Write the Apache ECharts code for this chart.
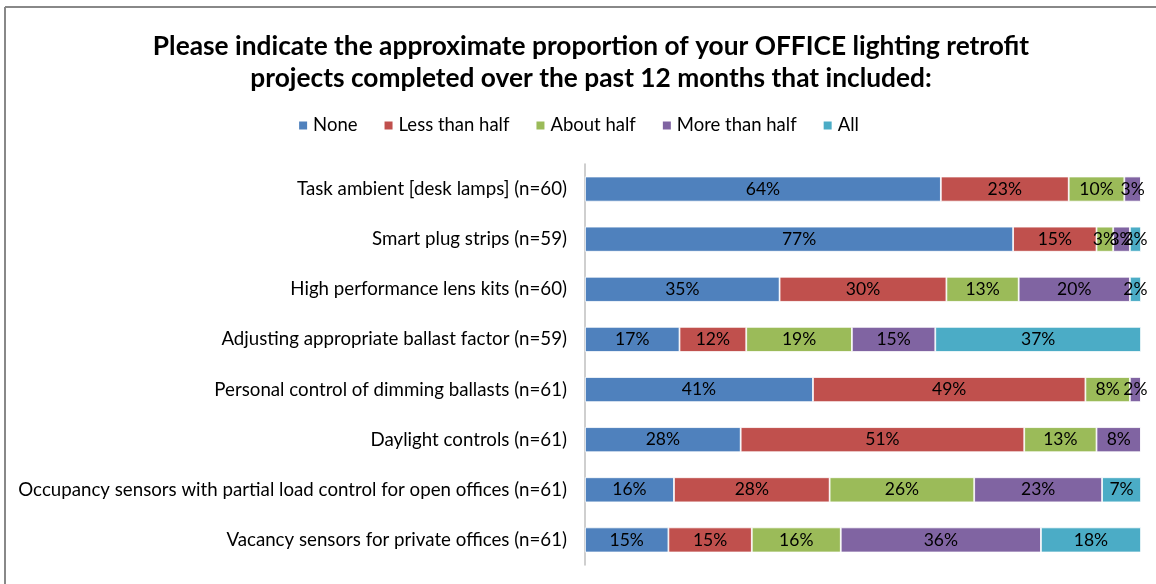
<!DOCTYPE html>
<html><head><meta charset="utf-8">
<script src="https://cdn.jsdelivr.net/npm/echarts@6/dist/echarts.min.js"></script>
<style>html,body{margin:0;padding:0;background:#fff}#c{width:1156px;height:584px}</style>
</head><body><div id="c"></div>
<script>
const categories = [
  "Task ambient [desk lamps] (n=60)",
  "Smart plug strips (n=59)",
  "High performance lens kits (n=60)",
  "Adjusting appropriate ballast factor (n=59)",
  "Personal control of dimming ballasts (n=61)",
  "Daylight controls (n=61)",
  "Occupancy sensors with partial load control for open offices (n=61)",
  "Vacancy sensors for private offices (n=61)"
];
const seriesNames = ["None", "Less than half", "About half", "More than half", "All"];
const none        = [64, 77, 35, 17, 41, 28, 16, 15];
const lessHalf    = [23, 15, 30, 12, 49, 51, 28, 15];
const aboutHalf   = [10, 3, 13, 19, 8, 13, 26, 16];
const moreHalf    = [3, 3, 20, 15, 2, 8, 23, 36];
const all         = [0, 2, 2, 37, 0, 0, 7, 18];
const colors = ["#4F81BD", "#C0504D", "#9BBB59", "#8064A2", "#4BACC6"];
const values = [none, lessHalf, aboutHalf, moreHalf, all];
const FONT = "Lato";

const chart = echarts.init(document.getElementById('c'));
chart.setOption({
  animation: false,
  textStyle: { fontFamily: FONT },
  title: {
    text: "Please indicate the approximate proportion of your OFFICE lighting retrofit\nprojects completed over the past 12 months that included:",
    left: 586, top: 26, textAlign: 'center',
    textStyle: { fontFamily: FONT, fontSize: 26.3, fontWeight: 'bold', color: '#000', lineHeight: 32 }
  },
  legend: {
    top: 111, left: 'center',
    itemWidth: 10, itemHeight: 10, itemGap: 25,
    icon: 'rect',
    textStyle: { fontFamily: FONT, fontSize: 18.5, color: '#000' },
    data: seriesNames
  },
  graphic: [
    { type: 'line', shape: { x1: 5, y1: 7, x2: 1156, y2: 7 }, style: { stroke: '#888', lineWidth: 2 } },
    { type: 'line', shape: { x1: 5, y1: 7, x2: 5, y2: 584 }, style: { stroke: '#888', lineWidth: 2 } }
  ],
  grid: { left: 585, right: 15, top: 164, bottom: 19, containLabel: false },
  xAxis: { type: 'value', min: 0, max: 100, show: false },
  yAxis: {
    type: 'category', data: categories, inverse: true,
    axisLine: { show: true, lineStyle: { color: '#bfbfbf', width: 1.5 } },
    axisTick: { show: false },
    axisLabel: { fontFamily: FONT, fontSize: 18.7, color: '#000', margin: 18 }
  },
  series: values.map((v, i) => ({
    name: seriesNames[i], type: 'bar', stack: 'total', data: v, barWidth: '50%',
    itemStyle: { color: colors[i], borderColor: '#fff', borderWidth: 0.8 },
    label: {
      show: true, position: 'inside', color: '#000', fontFamily: FONT, fontSize: 17.5,
      formatter: p => p.value > 0 ? p.value + '%' : ''
    }
  }))
});
</script></body></html>
